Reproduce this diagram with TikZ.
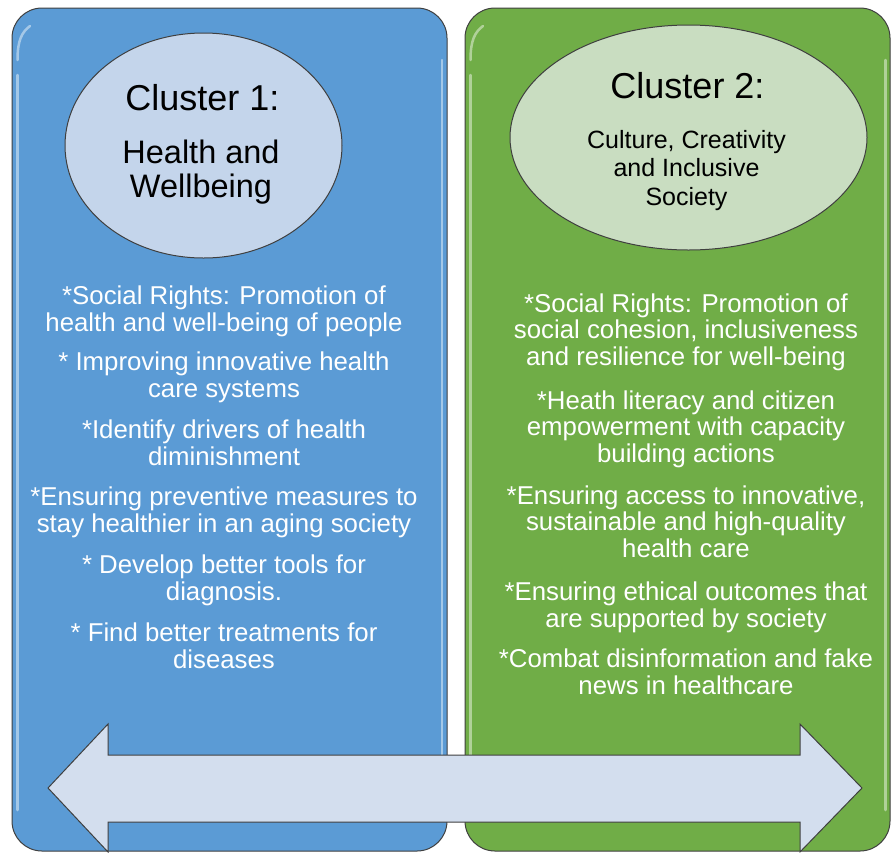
\documentclass[tikz,border=0pt]{standalone}
\usepackage{fontspec}
\setmainfont{Liberation Sans}
\usetikzlibrary{shapes.geometric}
\definecolor{boxblue}{HTML}{5B9BD5}
\definecolor{boxgreen}{HTML}{70AD47}
\definecolor{ellblue}{HTML}{C4D5EB}
\definecolor{ellgreen}{HTML}{C9DDC1}
\definecolor{arrowfill}{HTML}{D3DEEE}
\definecolor{edge}{HTML}{3F3F3F}
\begin{document}
\begin{tikzpicture}[x=1pt,y=-1pt,
  panel/.style={draw=edge, line width=1pt, rounded corners=30pt, inner sep=0pt},
  gloss/.style={draw=white, draw opacity=0.45, line width=2.5pt, line cap=round},
  oval/.style={ellipse, draw=edge, line width=1pt, inner sep=0pt},
  item/.style={text=white, align=center, font=\fontsize{25.8}{26.5}\selectfont, anchor=base, inner sep=0pt},
  bigtitle/.style={text=black, align=center, font=\fontsize{36}{38}\selectfont, anchor=base, inner sep=0pt},
  subone/.style={text=black, align=center, font=\fontsize{32.5}{34}\selectfont, anchor=base, inner sep=0pt},
  subtwo/.style={text=black, align=center, font=\fontsize{25}{28.5}\selectfont, anchor=base, inner sep=0pt},
  dblarrow/.style={draw=edge, line width=1pt, fill=arrowfill, line join=miter}
]
\useasboundingbox (0,0) rectangle (891,852);

% panels
\node[panel, fill=boxblue, minimum width=435pt, minimum height=843pt] (p1) at (229.5,429.5) {};
\node[panel, fill=boxgreen, minimum width=425pt, minimum height=843pt] (p2) at (677.5,429.5) {};

% glossy edge highlights
\draw[gloss] (17.5,60) .. controls (17.5,40) and (22,32) .. (30,26);
\draw[gloss] (17.5,75) -- (17.5,810);
\draw[gloss] (442,60) -- (442,810);
\draw[gloss] (470.5,60) .. controls (470.5,40) and (475,32) .. (483,26);
\draw[gloss] (470.5,75) -- (470.5,810);
\draw[gloss] (885.5,60) -- (885.5,810);

% ovals
\node[oval, fill=ellblue, minimum width=277pt, minimum height=225pt] (e1) at (203.5,145.5) {};
\node[oval, fill=ellgreen, minimum width=357pt, minimum height=225pt] (e2) at (688.5,137.5) {};

% oval texts
\node[bigtitle] (t1) at (202.5,110) {Cluster 1:};
\node[subone] (s1) at (201,197) {Health and\\Wellbeing};
\node[bigtitle] (t2) at (687.5,98) {Cluster 2:};
\node[subtwo] (s2) at (686.5,205) {Culture, Creativity\\and Inclusive\\Society};

% left items
\node[item] (l1) at (224,331) {*Social Rights: Promotion of\\health and well-being of people};
\node[item] (l2) at (224,397) {* Improving innovative health\\care systems};
\node[item] (l3) at (224,465) {*Identify drivers of health\\diminishment};
\node[item] (l4) at (224,532) {*Ensuring preventive measures to\\stay healthier in an aging society};
\node[item] (l5) at (224,600) {* Develop better tools for\\diagnosis.};
\node[item] (l6) at (224,668) {* Find better treatments for\\diseases};

% right items
\node[item] (r1) at (686,365) {*Social Rights: Promotion of\\social cohesion, inclusiveness\\and resilience for well-being};
\node[item] (r2) at (686,462) {*Heath literacy and citizen\\empowerment with capacity\\building actions};
\node[item] (r3) at (686,557) {*Ensuring access to innovative,\\sustainable and high-quality\\health care};
\node[item] (r4) at (686,627) {*Ensuring ethical outcomes that\\are supported by society};
\node[item] (r5) at (686,694) {*Combat disinformation and fake\\news in healthcare};

% double arrow
\draw[dblarrow] (48,788) -- (108,724) -- (108,755) -- (800,755) -- (800,724)
  -- (862,788) -- (800,852) -- (800,822) -- (108,822) -- (108,852) -- cycle;
\end{tikzpicture}
\end{document}
